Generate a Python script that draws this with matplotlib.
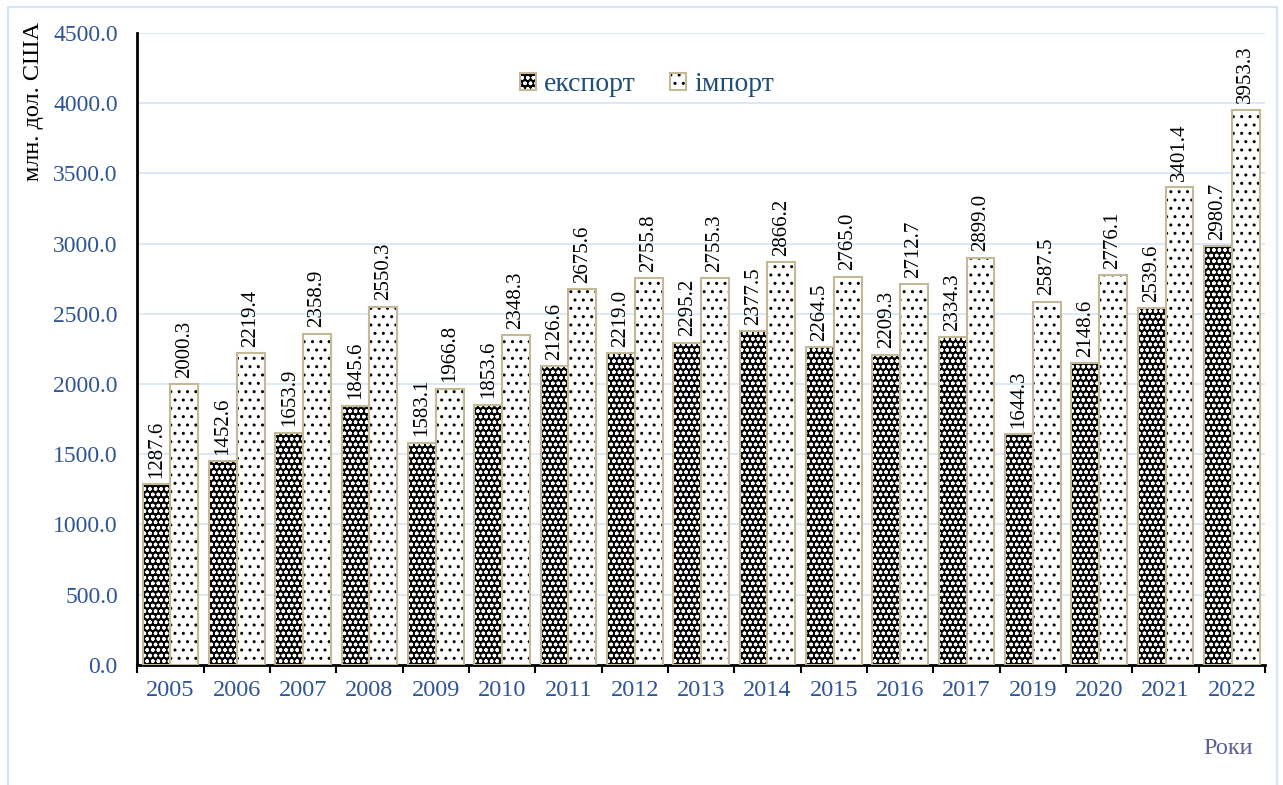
import matplotlib.pyplot as plt
import matplotlib.patches as mpatches
import numpy as np
from matplotlib.legend_handler import HandlerTuple

plt.rcParams['font.family'] = ['Liberation Serif', 'DejaVu Serif']
plt.rcParams['hatch.linewidth'] = 1.0

# Дані
roky = ['2005', '2006', '2007', '2008', '2009', '2010', '2011', '2012', '2013',
        '2014', '2015', '2016', '2017', '2019', '2020', '2021', '2022']
eksport = [1287.6, 1452.6, 1653.9, 1845.6, 1583.1, 1853.6, 2126.6, 2219.0, 2295.2,
           2377.5, 2264.5, 2209.3, 2334.3, 1644.3, 2148.6, 2539.6, 2980.7]
import_ = [2000.3, 2219.4, 2358.9, 2550.3, 1966.8, 2348.3, 2675.6, 2755.8, 2755.3,
           2866.2, 2765.0, 2712.7, 2899.0, 2587.5, 2776.1, 3401.4, 3953.3]

kolir_mezhi = '#C4B996'
kolir_osi = '#2F5597'

fig = plt.figure(figsize=(12.83, 7.85), dpi=100)
ax = fig.add_axes([0.107, 0.153, 0.879, 0.805])

# рамка навколо рисунка
fig.patches.append(mpatches.Rectangle((0.006, -0.02), 0.989, 1.011, transform=fig.transFigure,
                                      fill=False, edgecolor='#D6E4F5', linewidth=1.5))

x = np.arange(len(roky))
w = 0.42

# експорт: чорний з білими точками
ax.bar(x - w / 2, eksport, w, color='black', edgecolor='white', hatch='ooo', linewidth=0, zorder=3)
ax.bar(x - w / 2, eksport, w, fill=False, edgecolor=kolir_mezhi, linewidth=1.5, zorder=4)
# імпорт: білий з чорними точками
ax.bar(x + w / 2, import_, w, color='white', edgecolor='black', hatch='..', linewidth=0, zorder=3)
ax.bar(x + w / 2, import_, w, fill=False, edgecolor=kolir_mezhi, linewidth=1.5, zorder=4)

for xi, v in zip(x, eksport):
    ax.text(xi - w / 2, v + 45, f'{v:.1f}', rotation=90, ha='center', va='bottom', fontsize=15, zorder=5)
for xi, v in zip(x, import_):
    ax.text(xi + w / 2, v + 45, f'{v:.1f}', rotation=90, ha='center', va='bottom', fontsize=15, zorder=5)

ax.set_xlim(-0.5, len(roky) - 0.5)
ax.set_ylim(0, 4500)
ax.set_yticks(np.arange(0, 4501, 500))
ax.set_yticklabels([f'{t:.1f}' for t in np.arange(0, 4501, 500)], color=kolir_osi, fontsize=17)
ax.set_xticks(x)
ax.set_xticklabels(roky, color=kolir_osi, fontsize=17.5)
ax.tick_params(axis='x', length=0, pad=11)
ax.tick_params(axis='y', length=0, pad=14)
ax.set_xticks(np.arange(-0.5, len(roky), 1), minor=True)
ax.tick_params(axis='x', which='minor', length=6, width=1.5, color='black')

ax.grid(axis='y', color='#D6E4F5', linewidth=1.2, zorder=0)
ax.set_axisbelow(True)
for s in ['top', 'right']:
    ax.spines[s].set_visible(False)
ax.spines['left'].set_linewidth(2)
ax.spines['bottom'].set_linewidth(2)

# легенда
h1 = (mpatches.Patch(facecolor='black', edgecolor='white', hatch='ooo', linewidth=0),
      mpatches.Patch(fill=False, edgecolor=kolir_mezhi, linewidth=1.5))
h2 = (mpatches.Patch(facecolor='white', edgecolor='black', hatch='..', linewidth=0),
      mpatches.Patch(fill=False, edgecolor=kolir_mezhi, linewidth=1.5))
ax.legend([h1, h2], ['експорт', 'імпорт'], handler_map={tuple: HandlerTuple(ndivide=1)},
          loc='center', bbox_to_anchor=(0.452, 0.918), ncol=2, frameon=False,
          fontsize=20, handlelength=0.55, handleheight=0.55, handletextpad=0.3,
          columnspacing=1.25, labelcolor='#1F4E79')

fig.text(0.026, 0.972, 'млн. дол. США', rotation=90, ha='center', va='top', fontsize=17.5)
fig.text(0.957, 0.046, 'Роки', ha='center', va='center', fontsize=17.5, color='#5B5F97')

fig.savefig('out.png', dpi=100)
